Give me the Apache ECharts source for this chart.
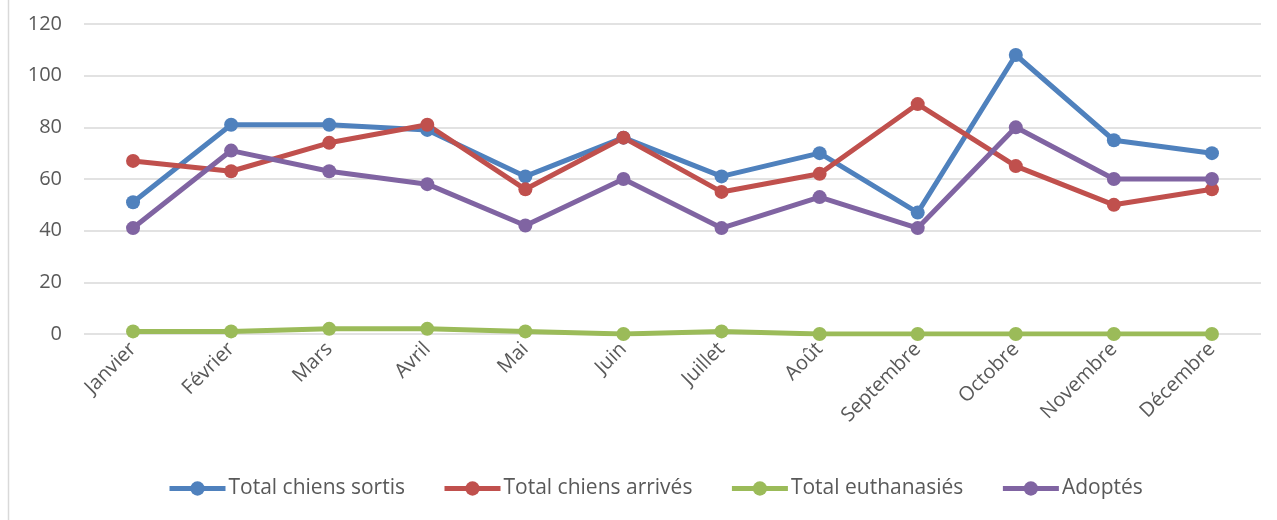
<!DOCTYPE html>
<html>
<head>
<meta charset="utf-8">
<script src="https://cdn.jsdelivr.net/npm/echarts@6/dist/echarts.min.js"></script>
<style>
html,body{margin:0;padding:0;background:#fff;}
#main{width:1277px;height:520px;}
</style>
</head>
<body>
<div id="main"></div>
<script>
var mois = ['Janvier','Février','Mars','Avril','Mai','Juin','Juillet','Août','Septembre','Octobre','Novembre','Décembre'];
var sortis = [51,81,81,79,61,76,61,70,47,108,75,70];
var arrives = [67,63,74,81,56,76,55,62,89,65,50,56];
var euthanasies = [1,1,2,2,1,0,1,0,0,0,0,0];
var adoptes = [41,71,63,58,42,60,41,53,41,80,60,60];
var yTicks = [0,20,40,60,80,100,120];

var police = 'Open Sans, Liberation Sans, sans-serif';

function serie(nom, data, couleur){
	return {
		name:nom,
		type:'line',
		data:data,
		symbol:'circle',
		symbolSize:14,
		lineStyle:{width:5,color:couleur},
		itemStyle:{color:couleur},
		animation:false
	};
}

var myChart = echarts.init(document.getElementById('main'));
var option = {
	backgroundColor:'#fff',
	color:['#4F81BD','#C0504D','#9BBB59','#8064A2'],
	graphic:[{
		type:'line',
		shape:{x1:8.5,y1:0,x2:8.5,y2:520},
		style:{stroke:'#d9d9d9',lineWidth:1.5}
	}],
	grid:{left:84,right:16,top:24,bottom:186,containLabel:false},
	legend:{
		bottom:16,
		left:162,
		itemWidth:56,
		itemHeight:18,
		itemGap:37,
		lineStyle:{width:5},
		textStyle:{fontFamily:police,fontSize:21,color:'#595959',padding:[0,0,0,-2]},
		data:['Total chiens sortis','Total chiens arrivés','Total euthanasiés','Adoptés']
	},
	xAxis:{
		type:'category',
		data:mois,
		boundaryGap:true,
		axisLine:{show:false},
		axisTick:{show:false},
		axisLabel:{rotate:45,fontFamily:police,fontSize:20,color:'#595959',margin:12,interval:0}
	},
	yAxis:{
		type:'value',
		min:yTicks[0],
		max:yTicks[yTicks.length-1],
		interval:20,
		axisLine:{show:false},
		axisTick:{show:false},
		axisLabel:{fontFamily:police,fontSize:20,color:'#595959',margin:22},
		splitLine:{lineStyle:{color:'#d9d9d9',width:1.5}}
	},
	series:[
		serie('Total chiens sortis', sortis, '#4F81BD'),
		serie('Total chiens arrivés', arrives, '#C0504D'),
		serie('Total euthanasiés', euthanasies, '#9BBB59'),
		serie('Adoptés', adoptes, '#8064A2')
	]
};
myChart.setOption(option);
</script>
</body>
</html>
